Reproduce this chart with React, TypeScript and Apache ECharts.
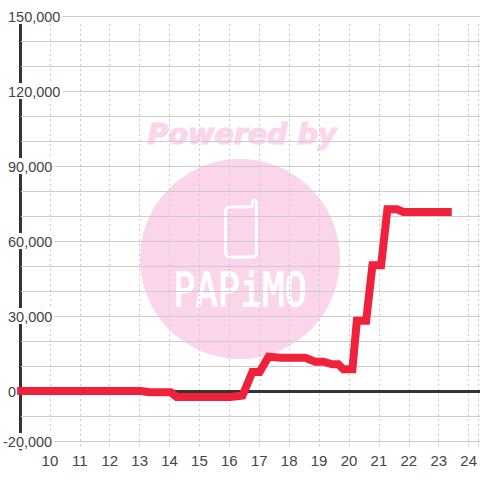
import React, { useEffect, useRef } from "react";
import * as echarts from "echarts";

const xValues = [8.87, 13.0, 13.3, 14.0, 14.2, 16.0, 16.4, 16.73, 16.97, 17.27, 17.67, 18.5, 18.83, 19.1, 19.4, 19.6, 19.77, 20.07, 20.22, 20.53, 20.74, 21.03, 21.24, 21.56, 21.77, 23.39];
const yValues = [0, 0, -500, -500, -2400, -2400, -1800, 7600, 7600, 13700, 13300, 13300, 11700, 11700, 10700, 10700, 8700, 8700, 28100, 28100, 50300, 50300, 72700, 72700, 71600, 71600];
const yTickLabels: Record<number, string> = {
  150000: "150,000",
  120000: "120,000",
  90000: "90,000",
  60000: "60,000",
  30000: "30,000",
  0: "0",
  [-20000]: "-20,000",
};
const logoWords = ["Powered by", "PAPiMO"];

const FONT = '"Liberation Sans"';
const PHONE = "M225.5 212 Q225.5 207 230 207 L250 207 Q252.5 207 252.5 204 L252.5 202.5 Q252.5 200.5 254.5 200.5 Q256.5 200.5 256.5 202.5 L256.5 252 Q256.5 257 251.5 257 L230.5 257 Q225.5 257 225.5 252 Z";

export default function App() {
  const ref = useRef<HTMLDivElement>(null);
  useEffect(() => {
    document.body.style.margin = "0";
    document.body.style.background = "#fff";
    echarts.graphic.registerShape("phoneLogo", echarts.graphic.extendPath(PHONE, {}));
    const chart = echarts.init(ref.current!, null, { renderer: "svg" });
    const common = { min: 9, max: 24.3333, interval: 1 };
    chart.setOption({
      animation: false,
      backgroundColor: "#fff",
      grid: [
        { left: 20, right: 0, top: 16, height: 425 },
        { left: 20, right: 0, top: 24, height: 425 },
      ],
      graphic: {
        elements: [
          { type: "circle", z: -10, silent: true, shape: { cx: 240, cy: 259, r: 100 }, style: { fill: "#FBD5EC" } },
          { type: "phoneLogo", z: -9, silent: true, style: { fill: "none", stroke: "#fff", lineWidth: 3 } },
          {
            type: "text", z: -9, silent: true, x: 240, y: 290, scaleY: 1.25,
            style: { text: logoWords[1], fill: "#fff", stroke: "#fff", lineWidth: 1, font: '400 37px "DejaVu Sans Mono"', align: "center", verticalAlign: "middle" },
          },
          {
            type: "text", z: -9, silent: true, x: 242, y: 134,
            style: { text: logoWords[0], fill: "#FBD5EC", stroke: "#FBD5EC", lineWidth: 1.2, font: 'italic bold 28.5px "DejaVu Sans"', align: "center", verticalAlign: "middle" },
          },
        ],
      },
      xAxis: [
        {
          type: "value", gridIndex: 0, ...common, z: 5.5,
          axisLine: { show: true, onZero: true, lineStyle: { color: "#333", width: 3 } },
          axisTick: { show: false }, axisLabel: { show: false }, splitLine: { show: false },
        },
        {
          type: "value", gridIndex: 1, ...common, position: "bottom",
          axisLine: { show: false }, axisTick: { show: false },
          axisLabel: {
            show: true, margin: 4, showMinLabel: false, showMaxLabel: false,
            color: "#444", fontFamily: FONT, fontSize: 15,
            formatter: (v: number) => String(v),
          },
          splitLine: { show: true, lineStyle: { color: "#ccc", width: 1, type: [2, 3] } },
        },
      ],
      yAxis: [
        {
          type: "value", gridIndex: 0, min: -20000, max: 150000, interval: 10000, z: 5,
          axisLine: { show: false }, axisTick: { show: false },
          axisLabel: {
            show: true, align: "left", margin: 18, showMinLabel: true, showMaxLabel: true,
            formatter: (v: number) => {
              const t = yTickLabels[v];
              if (t === undefined) return "";
              return v < 0 ? `{neg|${t}}` : v === 0 ? `{zero|${t}}` : `{a|${t}}`;
            },
            rich: {
              a: { color: "#444", fontFamily: FONT, fontSize: 14.5, backgroundColor: "#fff", lineHeight: 13, padding: [1, 2, 0, 5] },
              zero: { color: "#444", fontFamily: FONT, fontSize: 14.5, backgroundColor: "#fff", lineHeight: 13, padding: [1, 0, 0, 5] },
              neg: { color: "#444", fontFamily: FONT, fontSize: 14.5, backgroundColor: "#fff", lineHeight: 15, padding: [1, 2, 0, 0] },
            },
          },
          splitLine: { show: true, lineStyle: { color: "#ccc", width: 1 } },
        },
        {
          type: "value", gridIndex: 1, min: 0, max: 1, z: 1,
          axisLine: { show: true, lineStyle: { color: "#333", width: 3 } },
          axisTick: { show: false }, axisLabel: { show: false }, splitLine: { show: false },
        },
      ],
      series: [
        {
          type: "line", xAxisIndex: 0, yAxisIndex: 0, z: 6, clip: false,
          data: xValues.map((x, i) => [x, yValues[i]]),
          showSymbol: false, symbol: "none", smooth: false,
          lineStyle: { color: "#F0213A", width: 8, cap: "butt", join: "miter" },
        },
      ],
    });
    return () => chart.dispose();
  }, []);
  return <div ref={ref} style={{ width: 480, height: 480 }} />;
}
